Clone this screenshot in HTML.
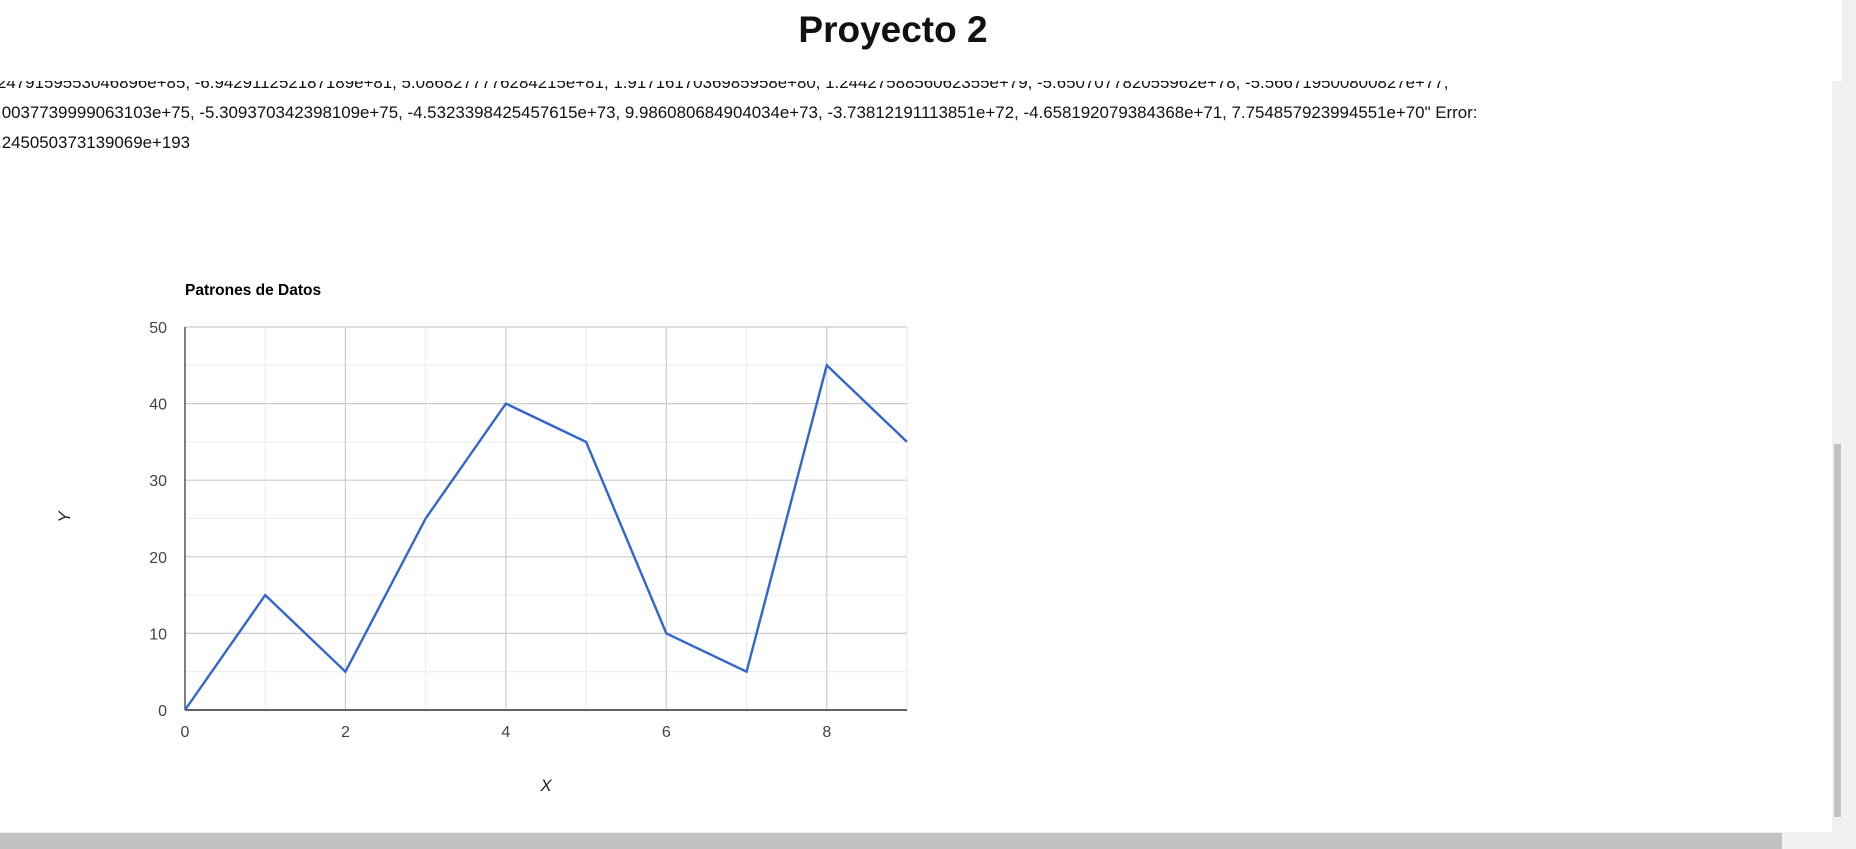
<!DOCTYPE html>
<html><head><meta charset="utf-8"><style>
body{margin:0;width:1856px;height:849px;overflow:hidden;background:#fff;position:relative;font-family:"Liberation Sans",sans-serif}
#title{position:absolute;left:0;width:1786px;top:9px;text-align:center;font-size:37px;font-weight:bold;color:#111;margin:0}
#box{position:absolute;left:0;top:81px;width:1832px;height:751px;overflow:hidden}
#txt{position:absolute;left:-3px;top:-13px;width:1900px;font-size:16.9px;line-height:30px;color:#111;white-space:nowrap}
#vs{position:absolute;left:1832px;top:81px;width:10px;height:751px;background:#f0f0f0}
#vthumb{position:absolute;left:1834px;top:444px;width:7px;height:373px;background:#c1c1c1}
#os{position:absolute;left:1842px;top:0;width:14px;height:849px;background:#f0f0f0}
#hs{position:absolute;left:0;top:832px;width:1842px;height:17px;background:#f0f0f0}
#hthumb{position:absolute;left:0;top:833px;width:1782px;height:16px;background:#c1c1c1}
</style></head><body>
<h1 id="title">Proyecto 2</h1>
<div id="box">
<div id="txt">2479159553046896e+85, -6.942911252187189e+81, 5.0868277776284215e+81, 1.9171617036985958e+80, 1.2442758856062355e+79, -5.650707782055962e+78, -5.566719500800827e+77,<br>.0037739999063103e+75, -5.309370342398109e+75, -4.5323398425457615e+73, 9.986080684904034e+73, -3.73812191113851e+72, -4.658192079384368e+71, 7.754857923994551e+70" Error:<br>.245050373139069e+193</div>
<svg id="chart" width="1856" height="849" style="position:absolute;left:0;top:-81px"></svg>
</div>
<div id="vs"></div>
<div id="vthumb"></div>
<div id="os"></div>
<div id="hs"></div>
<div id="hthumb"></div>
<script>
const xValues=[0,1,2,3,4,5,6,7,8,9];
const yValues=[0,15,5,25,40,35,10,5,45,35];
const yTicks=[0,10,20,30,40,50];
const xTicks=[0,2,4,6,8];
const NS="http://www.w3.org/2000/svg";
const svg=document.getElementById('chart');
const L=185,R=907,T=327,B=710,xmin=0,xmax=9,ymin=0,ymax=50;
const sx=v=>L+(v-xmin)/(xmax-xmin)*(R-L);
const sy=v=>B-(v-ymin)/(ymax-ymin)*(B-T);
function mk(t,a,txt){const e=document.createElementNS(NS,t);for(const k in a)e.setAttribute(k,a[k]);if(txt!==undefined)e.textContent=txt;svg.appendChild(e);return e;}
for(let v=ymin+5;v<ymax;v+=10){const g=mk('line',{x1:L,x2:R,y1:sy(v),y2:sy(v),stroke:'#ebebeb','stroke-width':1});

}
for(let v=xmin+1;v<=xmax;v+=2){const g=mk('line',{x1:sx(v),x2:sx(v),y1:T,y2:B,stroke:'#ebebeb','stroke-width':1});

}
yTicks.forEach(v=>{const g=mk('line',{x1:L,x2:R,y1:sy(v),y2:sy(v),stroke:'#cccccc','stroke-width':1.2});


const t=mk('text',{x:167,y:sy(v)+6,'text-anchor':'end','font-size':16,fill:'#444','font-family':'Liberation Sans, sans-serif'},v);

});
xTicks.forEach(v=>{const g=mk('line',{x1:sx(v),x2:sx(v),y1:T,y2:B,stroke:'#cccccc','stroke-width':1.2});


const t=mk('text',{x:sx(v),y:737,'text-anchor':'middle','font-size':16,fill:'#444','font-family':'Liberation Sans, sans-serif'},v);

});
const ax=mk('line',{x1:L,x2:R,y1:B,y2:B,stroke:'#333','stroke-width':1.5});


const ay=mk('line',{x1:L,x2:L,y1:T,y2:B,stroke:'#333','stroke-width':1.2});


const pts=xValues.map((x,i)=>sx(x)+','+sy(yValues[i])).join(' ');
const pl=mk('polyline',{points:pts,fill:'none',stroke:'#3366cc','stroke-width':2.4,'stroke-linejoin':'miter'});


const ct=mk('text',{x:185,y:295,'font-size':15.5,'font-weight':'bold',fill:'#000','font-family':'Liberation Sans, sans-serif'},'Patrones de Datos');


const xt=mk('text',{x:546,y:791,'text-anchor':'middle','font-size':17,'font-style':'italic',fill:'#222','font-family':'Liberation Sans, sans-serif'},'X');


const yt=mk('text',{x:0,y:0,'text-anchor':'middle','font-size':17,'font-style':'italic',fill:'#222','font-family':'Liberation Sans, sans-serif',transform:'translate(70,517) rotate(-90)'},'Y');


</script>
</body></html>
